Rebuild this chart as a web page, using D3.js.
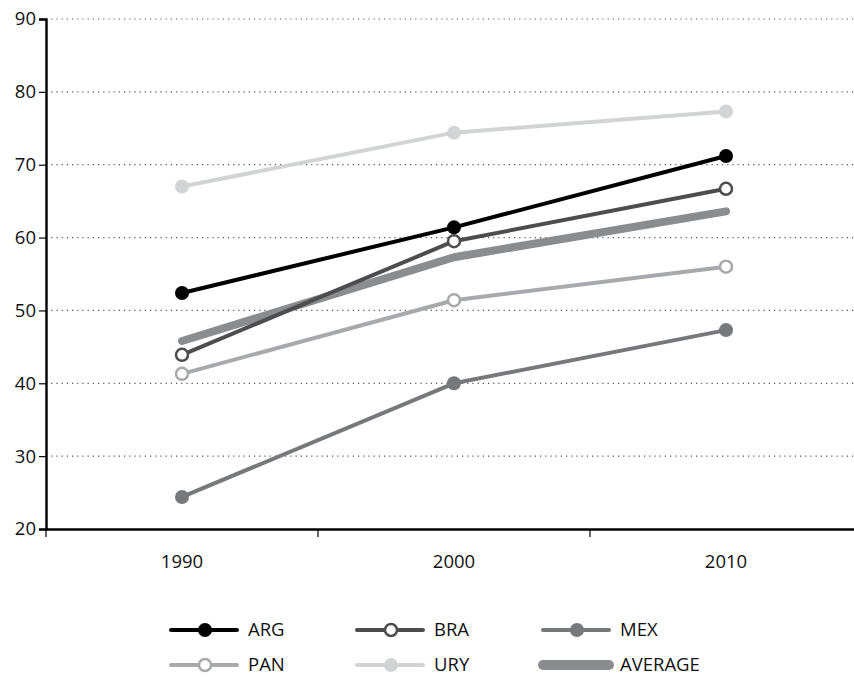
<!DOCTYPE html>
<html><head><meta charset="utf-8">
<script src="https://cdn.jsdelivr.net/npm/d3@7"></script>
<style>
body{margin:0;background:#fff;}
text{font-family:"Open Sans","Noto Sans",sans-serif;}
</style></head><body>
<svg id="chart" width="854" height="678"></svg>
<script>
const years = ["1990","2000","2010"];
const yTicks = [20,30,40,50,60,70,80,90];
const ARG = [52.4, 61.4, 71.2];
const BRA = [43.9, 59.5, 66.7];
const MEX = [24.4, 40.0, 47.3];
const PAN = [41.3, 51.4, 56.0];
const URY = [67.0, 74.4, 77.3];
const AVERAGE = [45.8, 57.3, 63.6];

const series = [
  {name:"AVERAGE", values:AVERAGE, color:"#8a8c8f", width:8, marker:"none"},
  {name:"URY", values:URY, color:"#d1d3d4", width:4, marker:"filled"},
  {name:"PAN", values:PAN, color:"#a7a9ac", width:4, marker:"open"},
  {name:"MEX", values:MEX, color:"#77787b", width:4, marker:"filled"},
  {name:"BRA", values:BRA, color:"#4d4d4f", width:4, marker:"open"},
  {name:"ARG", values:ARG, color:"#000000", width:4, marker:"filled"}
];
const legendOrder = ["ARG","BRA","MEX","PAN","URY","AVERAGE"];

const FS = 18.5;
const svg = d3.select("#chart");
const x = d3.scaleBand().domain(years).range([46, 862]);
const y = d3.scaleLinear().domain([20, 90]).range([529, 19]);

// grid
svg.append("g").selectAll("line").data(yTicks.filter(d=>d>20)).join("line")
  .attr("x1", 46).attr("x2", 854)
  .attr("y1", d=>y(d)).attr("y2", d=>y(d))
  .attr("stroke", "#555").attr("stroke-width", 1.2).attr("stroke-dasharray", "1.2,4");

// y axis
const yAxis = svg.append("g").attr("transform", "translate(46,0)")
  .call(d3.axisLeft(y).tickValues(yTicks).tickSize(7).tickPadding(3));
yAxis.select(".domain").attr("stroke", "#000").attr("stroke-width", 2.4);
yAxis.selectAll(".tick line").attr("stroke", "#000").attr("stroke-width", 1.2);
yAxis.selectAll(".tick text").attr("font-size", FS).attr("fill", "#111")
  .attr("font-family", "'Open Sans','Noto Sans',sans-serif");

// x axis
const xAxis = svg.append("g").attr("transform", "translate(0,529)")
  .call(d3.axisBottom(x).tickSize(0).tickPadding(26));
xAxis.select(".domain").attr("stroke", "#000").attr("stroke-width", 2.4);
xAxis.selectAll(".tick text").attr("font-size", FS).attr("fill", "#111")
  .attr("font-family", "'Open Sans','Noto Sans',sans-serif");
// band boundaries
svg.append("g").selectAll("line").data(years).join("line")
  .attr("x1", d=>x(d)).attr("x2", d=>x(d))
  .attr("y1", 529).attr("y2", 537)
  .attr("stroke", "#000").attr("stroke-width", 1.2);

const cx = d => x(d) + x.bandwidth()/2;
const line = d3.line().x((v,i)=>cx(years[i])).y(v=>y(v));

series.forEach(s => {
  const g = svg.append("g");
  g.append("path").attr("d", line(s.values)).attr("fill", "none")
    .attr("stroke", s.color).attr("stroke-width", s.width)
    .attr("stroke-linecap", "round").attr("stroke-linejoin", "round");
  if (s.marker !== "none") {
    g.selectAll("circle").data(s.values).join("circle")
      .attr("cx", (v,i)=>cx(years[i])).attr("cy", v=>y(v))
      .attr("r", s.marker === "open" ? 6 : 7)
      .attr("fill", s.marker === "open" ? "#fff" : s.color)
      .attr("stroke", s.marker === "open" ? s.color : "none")
      .attr("stroke-width", 2.5);
  }
});

// legend
const lx = [171, 357, 543];
const ly = [630, 665];
legendOrder.forEach((name, i) => {
  const s = series.find(d=>d.name===name);
  const col = i % 3, row = Math.floor(i/3);
  const g = svg.append("g").attr("transform", `translate(${lx[col]},${ly[row]})`);
  g.append("line").attr("x1", 0).attr("x2", 66).attr("y1", 0).attr("y2", 0)
    .attr("stroke", s.color).attr("stroke-width", s.name==="AVERAGE" ? 10 : 4)
    .attr("stroke-linecap", "round");
  if (s.marker !== "none") {
    g.append("circle").attr("cx", 34).attr("cy", 0)
      .attr("r", s.marker === "open" ? 6 : 7)
      .attr("fill", s.marker === "open" ? "#fff" : s.color)
      .attr("stroke", s.marker === "open" ? s.color : "none")
      .attr("stroke-width", 2.5);
  }
  g.append("text").attr("x", 77).attr("y", 0).attr("dy", "0.35em")
    .attr("font-size", FS).attr("fill", "#111").text(name);
});
</script>
</body></html>
